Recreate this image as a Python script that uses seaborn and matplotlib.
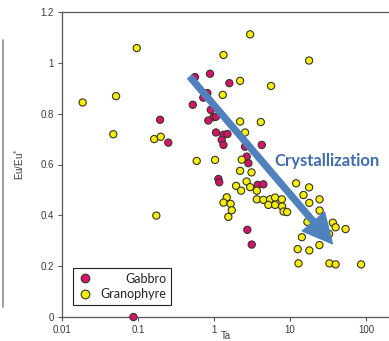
import matplotlib
matplotlib.use("Agg")
import matplotlib.pyplot as plt
import numpy as np
import pandas as pd
import seaborn as sns
from matplotlib.lines import Line2D
from matplotlib.patches import FancyArrowPatch

# Ta (ppm) and Eu/Eu*
gabbro_ta = [0.087, 0.195, 0.25, 0.525, 0.56, 0.885, 1.59, 0.817, 0.722, 0.905,
             0.98, 0.84, 1.06, 1.33, 1.50, 1.26, 1.33, 4.24, 2.56, 2.69,
             2.83, 1.14, 1.17, 3.76, 4.45, 2.74, 3.13, 1.06]
gabbro_eu = [0.0, 0.776, 0.686, 0.835, 0.944, 0.957, 0.92, 0.881, 0.863, 0.815,
             0.786, 0.773, 0.726, 0.717, 0.72, 0.697, 0.677, 0.677, 0.670, 0.631,
             0.605, 0.543, 0.53, 0.520, 0.522, 0.343, 0.285, 0.788]

granophyre_ta = [0.0187, 0.0514, 0.0962, 0.0473, 0.163, 0.199, 0.591, 0.174, 2.98, 1.33,
                 17.8, 2.20, 5.62, 1.30, 2.20, 4.12, 2.56, 1.03, 2.31, 2.20,
                 3.11, 2.68, 1.95, 2.27, 2.98, 3.65, 1.47, 1.33, 1.65, 1.71,
                 1.54, 3.65, 4.45, 5.46, 6.35, 7.78, 5.18, 6.35, 7.85, 8.21,
                 9.14, 12.0, 17.8, 15.0, 17.9, 24.4, 24.4, 16.9, 36.5, 39.7,
                 53.7, 32.6, 14.3, 12.6, 17.9, 24.3, 12.9, 32.9, 39.7, 85.9]
granophyre_eu = [0.844, 0.869, 1.058, 0.719, 0.70, 0.709, 0.614, 0.399, 1.112, 1.031,
                 1.009, 0.929, 0.909, 0.874, 0.769, 0.767, 0.726, 0.618, 0.619, 0.575,
                 0.569, 0.533, 0.516, 0.497, 0.511, 0.497, 0.471, 0.45, 0.445, 0.42,
                 0.394, 0.463, 0.461, 0.463, 0.470, 0.463, 0.441, 0.441, 0.435, 0.415,
                 0.413, 0.526, 0.510, 0.480, 0.449, 0.463, 0.419, 0.374, 0.371, 0.353,
                 0.346, 0.327, 0.314, 0.267, 0.262, 0.283, 0.211, 0.211, 0.207, 0.207]

x_ticks = [0.01, 0.1, 1, 10, 100]
x_tick_labels = ["0.01", "0.1", "1", "10", "100"]
y_ticks = [0, 0.2, 0.4, 0.6, 0.8, 1.0, 1.2]
y_tick_labels = ["0", "0.2", "0.4", "0.6", "0.8", "1", "1.2"]

# crystallization trend arrow (data coords)
arrow_start = (0.455, 0.953)
arrow_end = (38.0, 0.280)
label_pos = (31.0, 0.614)

df = pd.DataFrame({
    "Ta": gabbro_ta + granophyre_ta,
    "EuEu": gabbro_eu + granophyre_eu,
    "rock": ["Gabbro"] * len(gabbro_ta) + ["Granophyre"] * len(granophyre_ta),
})

sns.set_theme(style="white")
plt.rcParams["font.family"] = ["Liberation Sans", "DejaVu Sans"]

fig = plt.figure(figsize=(3.89, 3.41), dpi=100)
ax = fig.add_axes([62 / 389, 24 / 341, 327 / 389, 305 / 341])

palette = {"Gabbro": "#d4136f", "Granophyre": "#f2ee12"}
sns.scatterplot(data=df, x="Ta", y="EuEu", hue="rock", palette=palette,
                s=27, edgecolor="#3a3320", linewidth=0.8, ax=ax, zorder=3,
                clip_on=False)

ax.set_xscale("log")
ax.set_xlim(0.01, 200)
ax.set_ylim(0, 1.2)
ax.set_xticks(x_ticks, x_tick_labels)
ax.set_yticks(y_ticks, y_tick_labels)
ax.minorticks_off()
ax.tick_params(axis="both", direction="out", length=3, width=0.8, color="#555555",
               labelsize=7, labelcolor="#3a3a3a", pad=3, bottom=True, left=True)

for side in ["left", "bottom", "top"]:
    ax.spines[side].set_color("#555555")
    ax.spines[side].set_linewidth(0.9)
ax.spines["right"].set_visible(False)

ax.set_xlabel("Ta", fontsize=7, color="#3a3a3a", labelpad=-3)
ax.set_ylabel("Eu/Eu$^{*}$", fontsize=7, color="#3a3a3a", labelpad=10)

arrow = FancyArrowPatch(arrow_start, arrow_end,
                        arrowstyle="simple,head_length=1.0,head_width=1.0,tail_width=0.2",
                        mutation_scale=21, color="#4f81bd", zorder=5)
ax.add_patch(arrow)
ax.text(label_pos[0], label_pos[1], "Crystallization", ha="center", va="center",
        fontsize=12, fontweight="bold", color="#3f6eaa", family=["Lato", "DejaVu Sans"],
        zorder=6)

leg = ax.legend(loc="lower left", bbox_to_anchor=(0.035, 0.04), frameon=True,
                fancybox=False, edgecolor="#222222", framealpha=1,
                prop={"family": "Lato", "size": 9}, handletextpad=0.6,
                handlelength=1.2, borderpad=0.35, labelspacing=0.3,
                markerscale=1.2, borderaxespad=0)
leg.get_frame().set_linewidth(0.8)
for t in leg.get_texts():
    t.set_color("#222222")

# right-align legend labels by widening the gap of the shorter rows
fig.canvas.draw()
renderer = fig.canvas.get_renderer()
widths = [t.get_window_extent(renderer).width for t in leg.get_texts()]
rows = leg._legend_handle_box.get_children()[0].get_children()
for row, w in zip(rows, widths):
    row.sep += (max(widths) - w) * 72 / fig.dpi

fig.add_artist(Line2D([2.5 / 389, 2.5 / 389], [1 - 40 / 341, 1 - 307 / 341],
                      transform=fig.transFigure, color="#8a8a8a", lw=1.2))

fig.savefig("out.png", dpi=100)
